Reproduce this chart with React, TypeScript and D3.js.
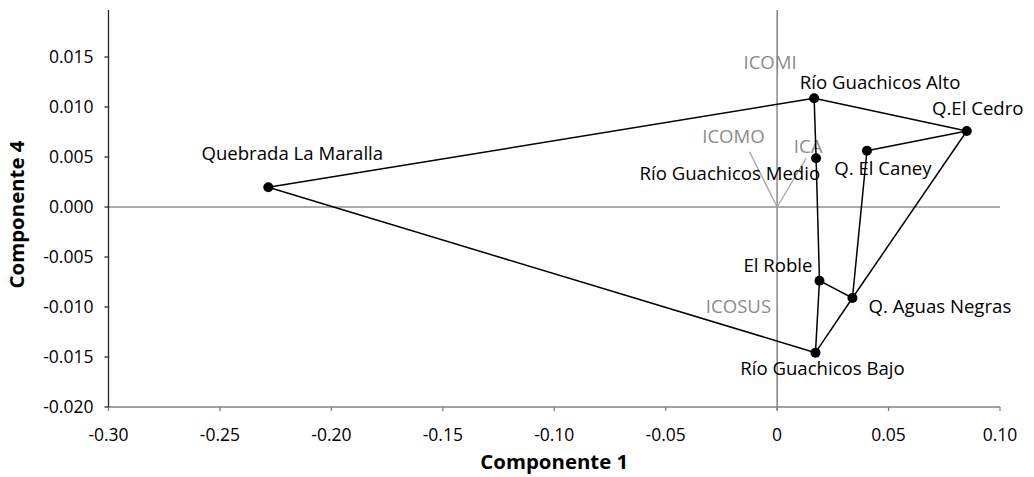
import React from "react";
import * as d3 from "d3";

// ---- data ----
const sites = [
  "Quebrada La Maralla",
  "Río Guachicos Alto",
  "Q.El Cedro",
  "Q. El Caney",
  "Río Guachicos Medio",
  "El Roble",
  "Q. Aguas Negras",
  "Río Guachicos Bajo",
];
const comp1 = [-0.2283, 0.0166, 0.0851, 0.0403, 0.0175, 0.019, 0.0338, 0.0172];
const comp4 = [0.00197, 0.01087, 0.0076, 0.00563, 0.00487, -0.00737, -0.0091, -0.01457];

// segments as pairs of site indices
const links: [number, number][] = [
  [0, 1], [1, 2], [2, 6], [6, 7], [7, 0],
  [1, 4], [4, 5], [5, 7], [5, 6], [3, 2], [3, 6],
];

const vectorNames = ["ICOMI", "ICOMO", "ICA", "ICOSUS"];
const vecX = [0, -0.0124, 0.013, 0];
const vecY = [0.0132, 0.00553, 0.00487, -0.0100];

const xTicks = [-0.3, -0.25, -0.2, -0.15, -0.1, -0.05, 0, 0.05, 0.1];
const xTickLabels = ["-0.30", "-0.25", "-0.20", "-0.15", "-0.10", "-0.05", "0", "0.05", "0.10"];
const yTicks = [-0.02, -0.015, -0.01, -0.005, 0, 0.005, 0.01, 0.015];
const yTickLabels = ["-0.020", "-0.015", "-0.010", "-0.005", "0.000", "0.005", "0.010", "0.015"];
const xDomain = [-0.3, 0.1];
const yDomain = [-0.02, 0.0197];

// ---- layout (label placement, pixels relative to point) ----
const siteLabelLayout: { dx: number; dy: number; anchor: string }[] = [
  { dx: 24, dy: -27, anchor: "middle" },
  { dx: 66, dy: -9, anchor: "middle" },
  { dx: 11, dy: -16, anchor: "middle" },
  { dx: 16, dy: 24, anchor: "middle" },
  { dx: 4, dy: 22, anchor: "end" },
  { dx: -7, dy: -9, anchor: "end" },
  { dx: 16, dy: 15, anchor: "start" },
  { dx: 7, dy: 22, anchor: "middle" },
];
const vecLabelLayout: { dx: number; dy: number; anchor: string }[] = [
  { dx: -7, dy: -6, anchor: "middle" },
  { dx: -16, dy: -9, anchor: "middle" },
  { dx: 2, dy: -5, anchor: "middle" },
  { dx: -6, dy: 6, anchor: "end" },
];

const W = 1034;
const H = 477;
const left = 108.5;
const right = 1000;
const top = 10;
const bottom = 407;
const FONT = "'Open Sans', Lato, sans-serif";
const LABEL_SIZE = 18.6;
const TICK_SIZE = 17.5;
const TITLE_SIZE = 20.4;

export default function App() {
  const x = d3.scaleLinear().domain(xDomain).range([left, right]);
  const y = d3.scaleLinear().domain(yDomain).range([bottom, top]);
  const x0 = x(0);
  const y0 = y(0);

  return (
    <svg
      width={W}
      height={H}
      style={{ position: "absolute", left: 0, top: 0, background: "#fff" }}
      fontFamily={FONT}
    >
      <rect width={W} height={H} fill="#fff" />
      {/* zero lines */}
      <line x1={left} x2={right} y1={y0} y2={y0} stroke="#595959" strokeWidth={1} />
      <line x1={x0} x2={x0} y1={top} y2={bottom + 3} stroke="#404040" strokeWidth={1} />

      {/* vectors */}
      {vectorNames.map((n, i) => (
        <line
          key={"v" + n}
          x1={x0}
          y1={y0}
          x2={x(vecX[i])}
          y2={y(vecY[i])}
          stroke="#a6a6a6"
          strokeWidth={1.3}
        />
      ))}
      {vectorNames.map((n, i) => (
        <text
          key={"vl" + n}
          x={x(vecX[i]) + vecLabelLayout[i].dx}
          y={y(vecY[i]) + vecLabelLayout[i].dy}
          textAnchor={vecLabelLayout[i].anchor as any}
          fontSize={LABEL_SIZE}
          fill="#8c8c8c"
        >
          {n}
        </text>
      ))}

      {/* axes */}
      <line x1={left} x2={right} y1={bottom} y2={bottom} stroke="#808080" strokeWidth={1.3} />
      <line x1={left} x2={left} y1={top} y2={bottom} stroke="#262626" strokeWidth={1.3} />
      {xTicks.map((t, i) => (
        <g key={"xt" + i}>
          <line x1={x(t)} x2={x(t)} y1={bottom} y2={bottom + 4} stroke="#808080" strokeWidth={1.3} />
          <text x={x(t)} y={bottom + 34} textAnchor="middle" fontSize={TICK_SIZE} fill="#000">
            {xTickLabels[i]}
          </text>
        </g>
      ))}
      {yTicks.map((t, i) => (
        <g key={"yt" + i}>
          <line x1={left - 4} x2={left} y1={y(t)} y2={y(t)} stroke="#262626" strokeWidth={1.3} />
          <text x={left - 15} y={y(t)} dy="0.35em" textAnchor="end" fontSize={TICK_SIZE} fill="#000">
            {yTickLabels[i]}
          </text>
        </g>
      ))}

      {/* links */}
      {links.map(([a, b], i) => (
        <line
          key={"l" + i}
          x1={x(comp1[a])}
          y1={y(comp4[a])}
          x2={x(comp1[b])}
          y2={y(comp4[b])}
          stroke="#000"
          strokeWidth={1.5}
        />
      ))}

      {/* points */}
      {sites.map((s, i) => (
        <circle key={"p" + i} cx={x(comp1[i])} cy={y(comp4[i])} r={5} fill="#000" />
      ))}
      {sites.map((s, i) => (
        <text
          key={"t" + i}
          x={x(comp1[i]) + siteLabelLayout[i].dx}
          y={y(comp4[i]) + siteLabelLayout[i].dy}
          textAnchor={siteLabelLayout[i].anchor as any}
          fontSize={LABEL_SIZE}
          fill="#000"
        >
          {s}
        </text>
      ))}

      {/* titles */}
      <text
        x={(left + right) / 2}
        y={bottom + 62}
        textAnchor="middle"
        fontSize={TITLE_SIZE}
        fontWeight="bold"
        fill="#000"
      >
        Componente 1
      </text>
      <text
        transform={`translate(24, ${(top + bottom) / 2 + 6}) rotate(-90)`}
        textAnchor="middle"
        fontSize={TITLE_SIZE}
        fontWeight="bold"
        fill="#000"
      >
        Componente 4
      </text>
    </svg>
  );
}
